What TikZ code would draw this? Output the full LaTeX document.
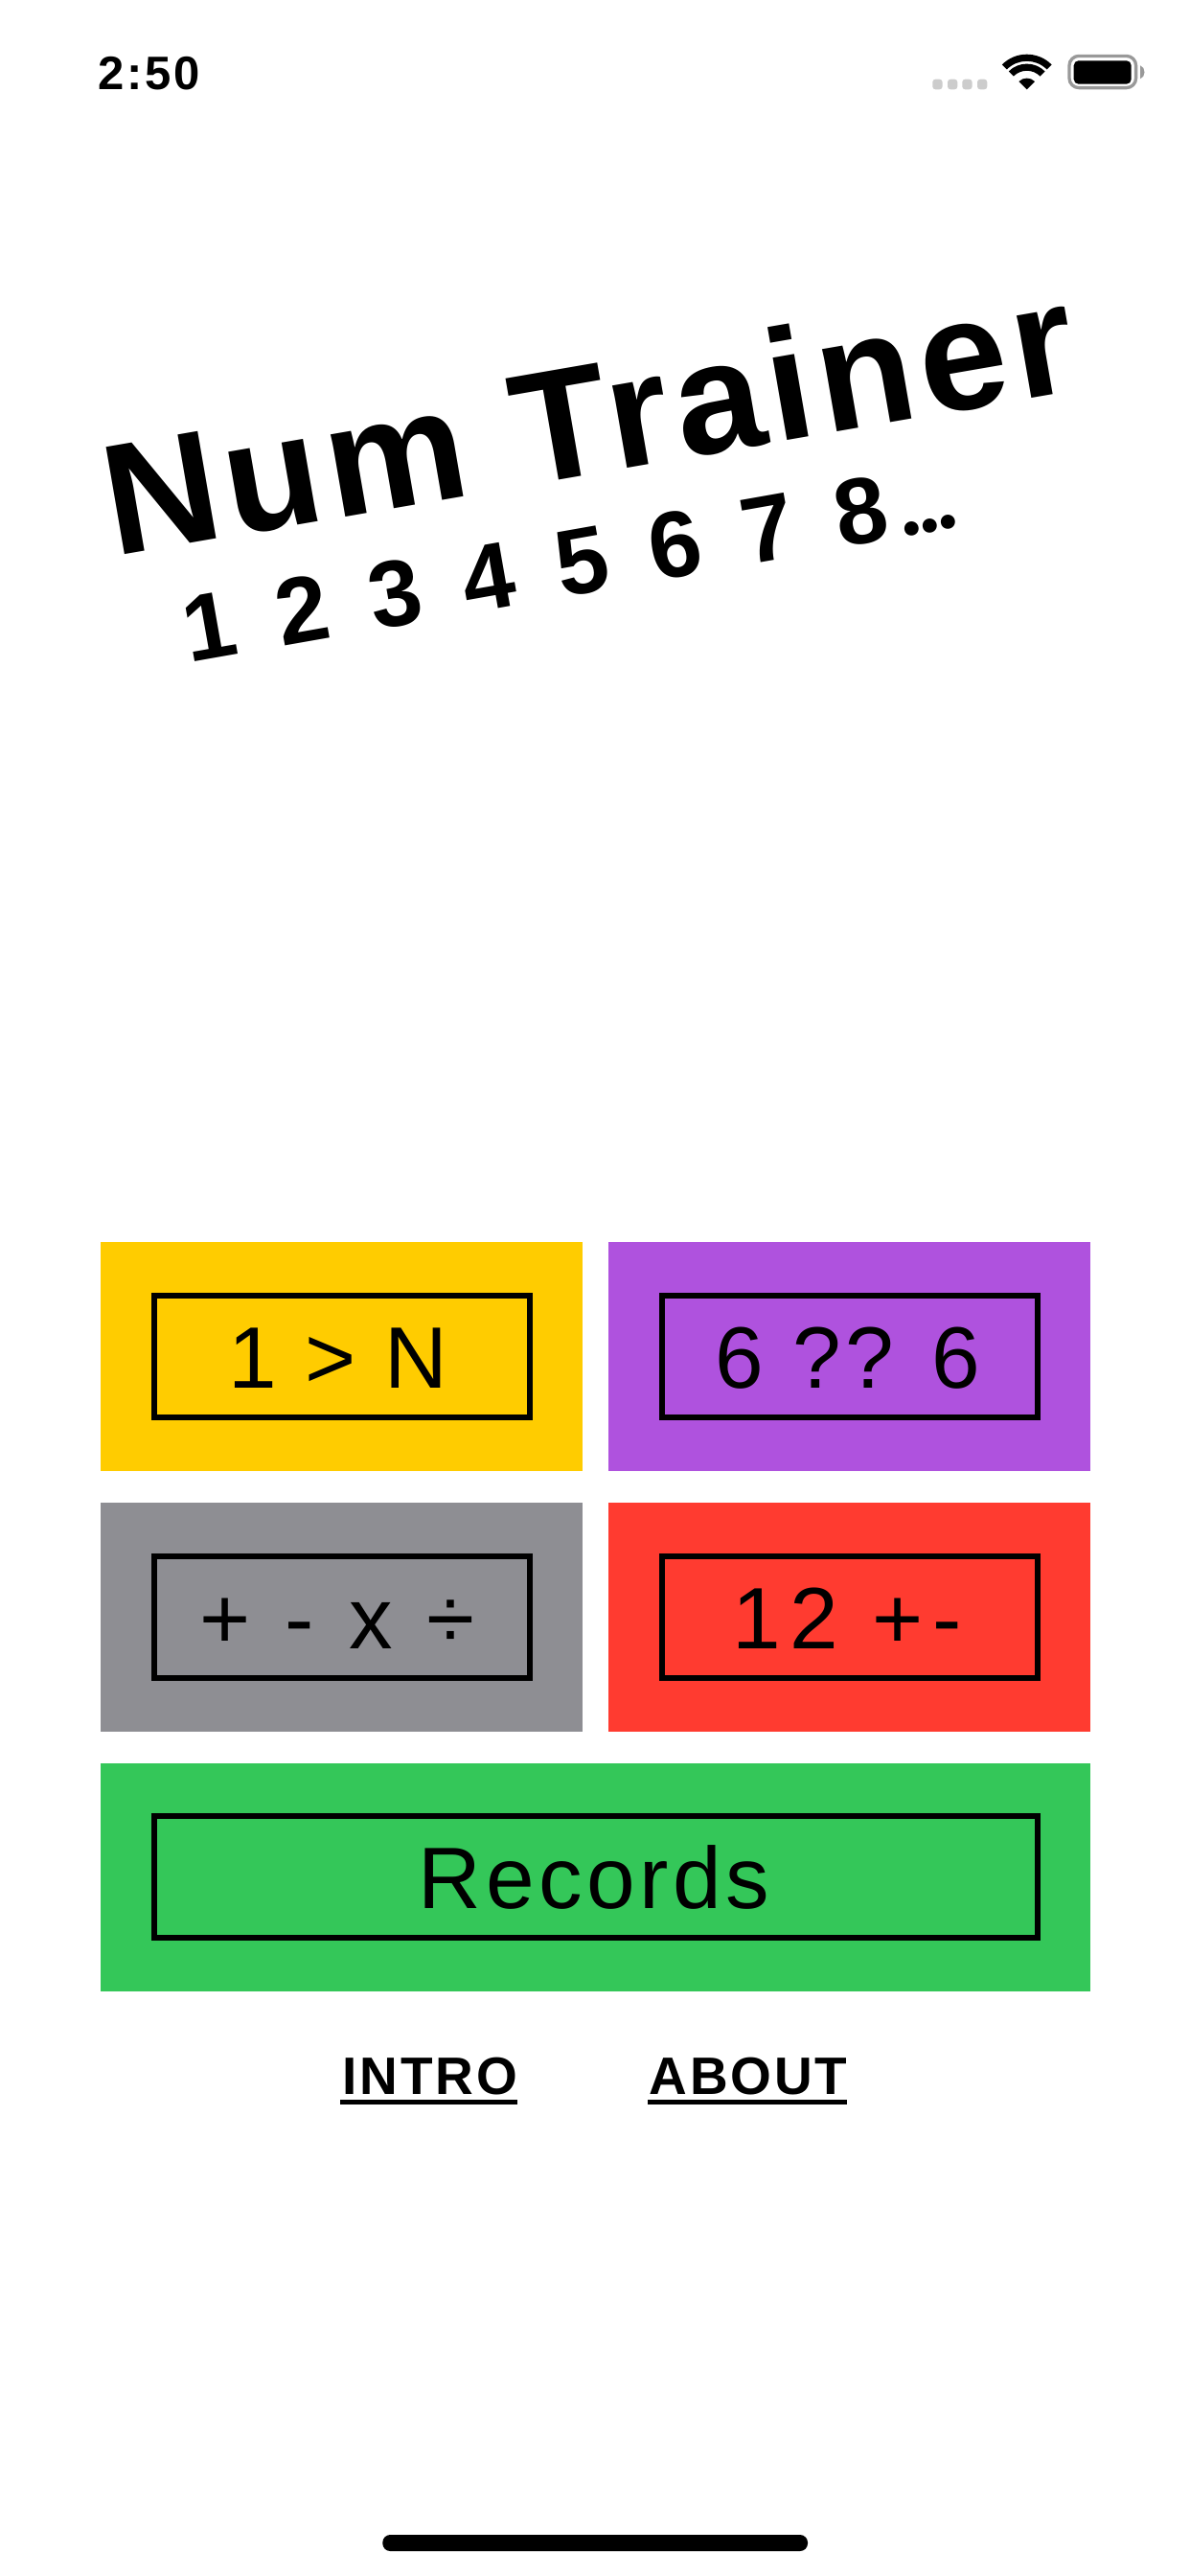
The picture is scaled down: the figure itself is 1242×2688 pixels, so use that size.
\documentclass[tikz,border=0pt]{standalone}
\usepackage{fontspec}
\setmainfont{Liberation Sans}
\newfontfamily\numfont[LetterSpace=17.4]{Liberation Sans}
\newfontfamily\dotsfont[LetterSpace=-4]{Lato}
\newfontfamily\titlefont[LetterSpace=4.2]{Liberation Sans}
\newfontfamily\timefont[LetterSpace=5.5]{Liberation Sans}
\newfontfamily\lsone[LetterSpace=4.5]{Liberation Sans}
\newfontfamily\lsa[LetterSpace=5]{Liberation Sans}
\newfontfamily\lsrec[LetterSpace=5]{Liberation Sans}
\newfontfamily\lsb[LetterSpace=12]{Liberation Sans}
\newfontfamily\lsd[LetterSpace=10.7]{Liberation Sans}
\newfontfamily\lsc[LetterSpace=5]{Liberation Sans}
\definecolor{cyellow}{HTML}{FFCC00}
\definecolor{cpurple}{HTML}{AF52DE}
\definecolor{cgray}{HTML}{8E8E93}
\definecolor{cred}{HTML}{FF3B30}
\definecolor{cgreen}{HTML}{34C759}
\definecolor{cdot}{HTML}{CCCCCC}
\definecolor{cbat}{HTML}{999999}
\tikzset{
  frame/.style={draw=black,line width=6pt,fill=none},
  btntext/.style={anchor=base,inner sep=0pt,font=\fontsize{91}{96}\selectfont},
  linktext/.style={anchor=base,inner sep=0pt,font=\fontsize{55}{58}\selectfont\bfseries\lsc},
  rule/.style={fill=black,draw=none},
  sigdot/.style={fill=cdot,draw=none,rounded corners=3pt},
}
\begin{document}
\begin{tikzpicture}[x=1pt,y=-1pt]
\useasboundingbox[fill=white] (0,0) rectangle (1242,2688);
% status bar
\node[anchor=base west,inner sep=0pt,font=\fontsize{49}{54}\selectfont\bfseries\timefont] (time) at (102,93) {2:50};
\fill[sigdot] (973.3,82.7) rectangle (983.6,93.3);
\fill[sigdot] (989,82.7) rectangle (999.3,93.3);
\fill[sigdot] (1004.3,82.7) rectangle (1014.6,93.3);
\fill[sigdot] (1020,82.7) rectangle (1030.3,93.3);
\coordinate (wifi) at (1071.7,93.3);
\fill (wifi) -- ++(225:11.7) arc[start angle=225,end angle=315,radius=11.7] -- cycle;
\fill (wifi) ++(225:26.7) arc[start angle=225,end angle=315,radius=26.7] -- ++(315:-7.2) arc[start angle=315,end angle=225,radius=19.5] -- cycle;
\fill (wifi) ++(225:36.6) arc[start angle=225,end angle=315,radius=36.6] -- ++(315:-7.1) arc[start angle=315,end angle=225,radius=29.5] -- cycle;
\draw[cbat,line width=3.3pt,rounded corners=10pt] (1116,58.4) rectangle (1185.6,91.6);
\fill[black,rounded corners=5pt] (1120.7,63.3) rectangle (1180.7,87.7);
\fill[cbat] (1190,68.3) .. controls (1196,70) and (1196,80.5) .. (1190,82.3) -- cycle;
% title
\node[anchor=base west,inner sep=0pt,rotate=9.8,font=\fontsize{165}{170}\selectfont\bfseries\titlefont] (title) at (119,581) {Num Trainer};
\node[anchor=base west,inner sep=0pt,rotate=10,font=\fontsize{98}{100}\selectfont\bfseries\numfont] (nums) at (197,692) {1 2 3 4 5 6 7 8\hspace{10pt}\dotsfont\bfseries...};
% cards
\fill[cyellow] (105,1296) rectangle (608,1534.5);
\fill[cpurple] (635,1296) rectangle (1138,1534.5);
\fill[cgray] (105,1568) rectangle (608,1806.5);
\fill[cred] (635,1568) rectangle (1138,1806.5);
\fill[cgreen] (105,1839.5) rectangle (1138,2078);
% frames
\draw[frame] (161,1352.3) rectangle (553,1479);
\draw[frame] (691,1352.3) rectangle (1082.5,1479);
\draw[frame] (161,1624) rectangle (553,1750.8);
\draw[frame] (691,1624) rectangle (1082.5,1750.8);
\draw[frame] (161,1895.3) rectangle (1082.5,2022);
% labels
\node[btntext] (a) at (353,1448.6) {\lsone 1 > N};
\node[btntext] (b) at (885,1448.6) {\lsa 6 ?? 6};
\node[btntext] (c) at (352,1720.7) {\lsb + - x ÷};
\node[btntext] (d) at (884,1720.7) {\lsd 12 +-};
\node[btntext] (e) at (620,1991.7) {\lsrec Records};
\node[linktext] (intro) at (449,2185) {INTRO};
\node[linktext] (about) at (781,2185) {ABOUT};
\fill[rule] (355,2190.7) rectangle (539.5,2196.2);
\fill[rule] (676,2190.7) rectangle (884,2196.2);
% home indicator
\fill[black,rounded corners=8pt] (399.3,2645) rectangle (843,2662);
\end{tikzpicture}
\end{document}
